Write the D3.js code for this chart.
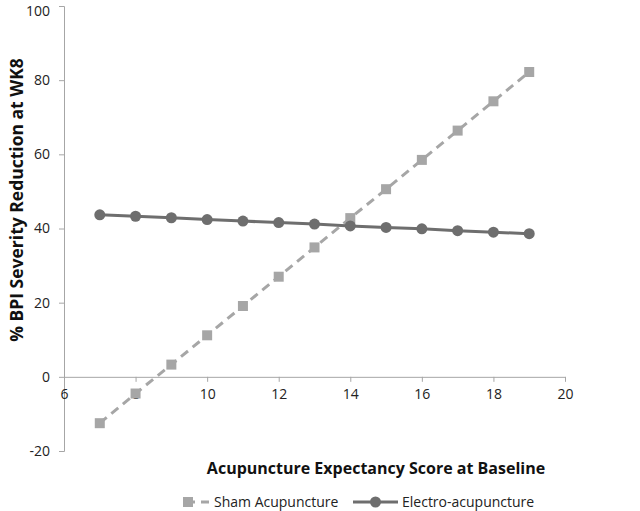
<!DOCTYPE html>
<html><head><meta charset="utf-8">
<script src="https://cdn.jsdelivr.net/npm/d3@7"></script>
<style>body{margin:0;background:#fff}svg{display:block}</style>
</head><body>
<svg id="c" width="640" height="511"></svg>
<script>
const xValues = [7,8,9,10,11,12,13,14,15,16,17,18,19];
const shamValues = [-12.5,-4.5,3.3,11.2,19.1,27.0,34.9,42.8,50.6,58.5,66.4,74.3,82.2];
const electroValues = [43.7,43.3,42.9,42.4,42.0,41.6,41.2,40.7,40.3,39.9,39.4,39.0,38.6];
const xTicks = [6,8,10,12,14,16,18,20];
const yTicks = [-20,0,20,40,60,80,100];
const seriesNames = ["Sham Acupuncture","Electro-acupuncture"];

const svg = d3.select("#c");
const font = "'Open Sans', 'Liberation Sans', sans-serif";
const x = d3.scaleLinear().domain([6,20]).range([64,565]);
const y = d3.scaleLinear().domain([-20,100]).range([451,6]);
const axisColor = "#a6a6a6";
const shamColor = "#a6a6a6";
const elecColor = "#6e6e6e";
const fmt = d => String(d);

// y axis
const ya = svg.append("g").attr("transform",`translate(${x(6)},0)`)
  .call(d3.axisLeft(y).tickValues(yTicks).tickFormat(fmt).tickSize(5).tickPadding(9));
ya.select(".domain").attr("stroke",axisColor);
ya.selectAll(".tick line").attr("stroke",axisColor);
ya.selectAll(".tick text").attr("font-family",font).attr("font-size",14).attr("fill","#222")
  .attr("dy", d => d === 100 ? "0.68em" : "0.32em");

// x axis at y=0
const xa = svg.append("g").attr("transform",`translate(0,${y(0)})`)
  .call(d3.axisBottom(x).tickValues(xTicks).tickFormat(fmt).tickSize(5).tickPadding(7).tickSizeOuter(0));
xa.select(".domain").attr("stroke",axisColor);
xa.selectAll(".tick line").attr("stroke",axisColor);
xa.selectAll(".tick text").attr("font-family",font).attr("font-size",14).attr("fill","#222");

const sham = xValues.map((v,i)=>[v,shamValues[i]]);
const elec = xValues.map((v,i)=>[v,electroValues[i]]);
const line = d3.line().x(d=>x(d[0])).y(d=>y(d[1]));

svg.append("path").datum(sham).attr("d",line).attr("fill","none")
  .attr("stroke",shamColor).attr("stroke-width",3).attr("stroke-dasharray","9,6");
svg.append("path").datum(elec).attr("d",line).attr("fill","none")
  .attr("stroke",elecColor).attr("stroke-width",3);

const sq = 10;
svg.append("g").selectAll("rect").data(sham).join("rect")
  .attr("x",d=>x(d[0])-sq/2).attr("y",d=>y(d[1])-sq/2)
  .attr("width",sq).attr("height",sq).attr("fill",shamColor);
svg.append("g").selectAll("circle").data(elec).join("circle")
  .attr("cx",d=>x(d[0])).attr("cy",d=>y(d[1])).attr("r",5.5).attr("fill",elecColor);

// titles
svg.append("text").attr("transform","translate(23,200) rotate(-90)")
  .attr("text-anchor","middle").attr("font-family",font).attr("font-weight","bold")
  .attr("font-size",17.5).attr("fill","#111").text("% BPI Severity Reduction at WK8");
svg.append("text").attr("x",376).attr("y",474)
  .attr("text-anchor","middle").attr("font-family",font).attr("font-weight","bold")
  .attr("font-size",16).attr("fill","#111").text("Acupuncture Expectancy Score at Baseline");

// legend
const ly = 502;
const lg = svg.append("g");
lg.append("line").attr("x1",183).attr("x2",209).attr("y1",ly).attr("y2",ly)
  .attr("stroke",shamColor).attr("stroke-width",3).attr("stroke-dasharray","9,6").attr("stroke-dashoffset",-3);
lg.append("rect").attr("x",183).attr("y",ly-sq/2).attr("width",sq).attr("height",sq).attr("fill",shamColor);
lg.append("text").attr("x",214).attr("y",ly+5).attr("font-family",font).attr("font-size",14)
  .attr("fill","#222").text(seriesNames[0]);
lg.append("line").attr("x1",353).attr("x2",398).attr("y1",ly).attr("y2",ly)
  .attr("stroke",elecColor).attr("stroke-width",3);
lg.append("circle").attr("cx",375.5).attr("cy",ly).attr("r",5.5).attr("fill",elecColor);
lg.append("text").attr("x",402).attr("y",ly+5).attr("font-family",font).attr("font-size",14)
  .attr("fill","#222").text(seriesNames[1]);
</script>
</body></html>
